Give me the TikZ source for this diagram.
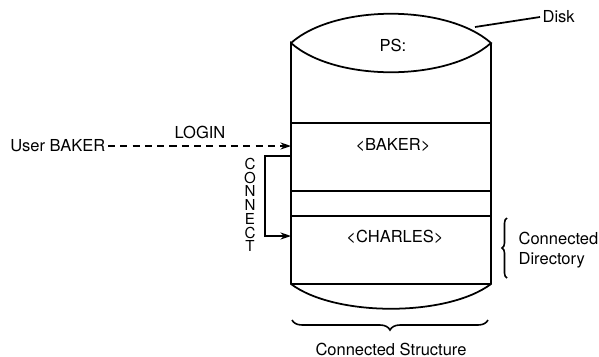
\documentclass[tikz,border=0pt]{standalone}
\usepackage{fontspec}
\setmainfont{TeX Gyre Heros}
\usetikzlibrary{arrows.meta,decorations.pathreplacing}
\begin{document}
\begin{tikzpicture}[x=0.02cm,y=-0.02cm,line width=1pt,
  every node/.style={font=\fontsize{9.4}{11}\selectfont, inner sep=1pt},
  tip/.style={-{Stealth[length=6pt,width=4pt]}},
  band/.style={line width=0.9pt},
  curly/.style={decorate, line width=0.9pt}]
\useasboundingbox (0,0) rectangle (599,356);

\coordinate (tl) at (291,43);
\coordinate (tr) at (491,43);
\coordinate (bl) at (291,284);
\coordinate (br) at (491,284);
\coordinate (login) at (291,146);
\coordinate (ctop) at (291,156);
\coordinate (cbot) at (291,236);
\coordinate (diskpt) at (475,27);

\node (ps) at (393,45) {PS:};
\node (baker) at (393,145) {<BAKER>};
\node (charles) at (395,237) {<CHARLES>};
\node[anchor=east] (user) at (108,146) {User BAKER};
\node (loginlbl) at (200,132) {LOGIN};
\node[align=center, font=\fontsize{8.6}{7.8}\selectfont] (connect) at (250,205) {C\\O\\N\\N\\E\\C\\T};
\node[anchor=west] (disk) at (540,17) {Disk};
\node[anchor=west, align=left, font=\fontsize{9.4}{11.3}\selectfont] (cdir) at (516,250) {Connected\\Directory};
\node (cstruct) at (391,349) {Connected Structure};

\draw (tl) .. controls (335,4) and (447,4) .. (tr) .. controls (447,82) and (335,82) .. (tl)
  -- (bl) .. controls (335,317) and (447,317) .. (br) -- (tr);
\foreach \y in {123,191,216,284} \draw[band] (291,\y) -- (491,\y);

\draw[tip, dash pattern=on 4pt off 3pt] (user) -- (login);
\draw[tip] (ctop) -- ++(-26,0) |- (cbot);
\draw (diskpt) -- (disk.west);

\draw[curly, decoration={brace, amplitude=1mm}] (507,278) -- (507,218);
\draw[curly, decoration={brace, amplitude=2mm}] (488,320) -- (292,320);
\end{tikzpicture}
\end{document}
